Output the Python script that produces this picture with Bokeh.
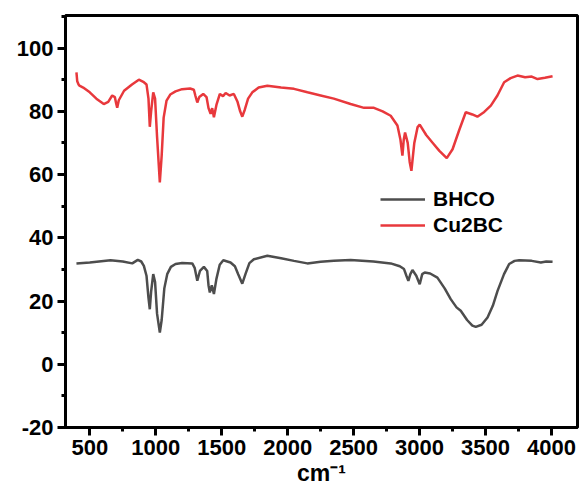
from bokeh.plotting import figure
from bokeh.models import Range1d, SingleIntervalTicker, Legend, LegendItem
from bokeh.embed import file_html
from bokeh.resources import INLINE

# Cu2BC (red)
cu_wn = [399, 405, 415, 422, 450, 500, 550, 606, 640, 670, 690, 700, 708, 720, 760, 820, 872, 910, 930, 945,
         955, 965, 981, 995, 1010, 1031, 1045, 1060, 1082, 1110, 1150, 1200, 1260, 1289, 1300, 1315, 1330, 1360,
         1385, 1400, 1416, 1428, 1441, 1460, 1486, 1510, 1530, 1560, 1592, 1620, 1640, 1656, 1675, 1700, 1732,
         1780, 1846, 1950, 2048, 2150, 2250, 2350, 2477, 2579, 2654, 2720, 2781, 2832, 2855, 2870, 2880, 2890,
         2910, 2925, 2938, 2960, 2985, 3001, 3050, 3100, 3150, 3206, 3250, 3300, 3350, 3400, 3438, 3490, 3540,
         3590, 3641, 3690, 3742, 3800, 3850, 3894, 3950, 4008]
cu_val = [92.3, 89.5, 88.5, 88.1, 87.5, 86, 84, 82.3, 83, 85, 84.5, 82.5, 81.1, 83.5, 86.5, 88.5, 90, 89.2, 88.5, 84,
          75.1, 80, 86, 84, 72, 57.5, 66, 78, 83.4, 85.3, 86.3, 87, 87.2, 86.8, 85, 82.8, 84.5, 85.5,
          84.5, 81, 79.2, 81, 78.1, 82, 85.5, 84.8, 85.8, 85, 85.5, 83, 80, 78.3, 80.5, 84, 86,
          87.5, 88.1, 87.5, 87.1, 86, 85, 84, 82.3, 81.1, 81.1, 80, 78.6, 75.5, 71, 66, 71, 73.3,
          70, 64, 61.2, 70, 75, 75.8, 72.5, 70, 67.5, 65.2, 68, 74, 79.7, 79, 78.3, 79.8, 81.8,
          85, 89.2, 90.5, 91.3, 90.8, 91, 90.2, 90.6, 91.1]

# BHCO (gray)
bh_wn = [399, 500, 657, 750, 822, 864, 890, 910, 930, 945, 955, 965, 981, 995, 1010, 1031, 1045, 1065, 1087, 1115,
         1150, 1200, 1277, 1295, 1315, 1335, 1365, 1390, 1400, 1410, 1425, 1441, 1460, 1485, 1512, 1567, 1600,
         1625, 1656, 1680, 1710, 1744, 1846, 1950, 2048, 2149, 2250, 2350, 2477, 2650, 2781, 2850, 2882, 2900,
         2915, 2930, 2946, 2975, 3001, 3020, 3039, 3080, 3135, 3190, 3236, 3280, 3312, 3360, 3400, 3426, 3470,
         3515, 3555, 3591, 3640, 3679, 3720, 3755, 3850, 3919, 3960, 4008]
bh_val = [31.9, 32.2, 32.9, 32.5, 31.9, 33.0, 32.5, 31.1, 28, 21, 17.4, 23, 28.5, 26, 16, 10.0, 14, 24, 28.5, 30.8,
          31.7, 32, 31.9, 30.5, 26.4, 29.5, 30.8, 29.5, 25, 22.7, 25, 22.2, 27, 31.5, 32.9, 32.2, 31,
          28.5, 25.5, 28.5, 32, 33.2, 34.3, 33.5, 32.7, 31.9, 32.4, 32.7, 33, 32.5, 31.9, 31, 30.1, 28,
          26.4, 28.5, 29.8, 28, 25.3, 28.5, 29.0, 28.7, 27.4, 24, 20.6, 18, 16.9, 14, 12.2, 11.8, 12.5,
          14.8, 18.5, 23.2, 28.5, 31.7, 32.7, 32.9, 32.7, 32.2, 32.5, 32.4]

series_names = ["BHCO", "Cu2BC"]
x_label = "cm\u207b\u00b9"
y_tick_override = {-20: "-20"}

FONT = "Liberation Sans"

p = figure(width=581, height=495, output_backend="svg", toolbar_location=None,
           x_range=Range1d(316, 4197), y_range=Range1d(-20, 110.3),
           min_border_left=65, min_border_right=4, min_border_top=15, min_border_bottom=68)
p.xgrid.visible = False
p.ygrid.visible = False
p.outline_line_color = "black"
p.outline_line_width = 3
p.outline_line_alpha = 1

r_bh = p.line(bh_wn, bh_val, line_color="#4d4d4d", line_width=2.5)
r_cu = p.line(cu_wn, cu_val, line_color="#e8383c", line_width=2.5)

p.xaxis.ticker = SingleIntervalTicker(interval=500, num_minor_ticks=2)
p.yaxis.ticker = SingleIntervalTicker(interval=20, num_minor_ticks=2)
p.yaxis.major_label_overrides = y_tick_override
for ax in (p.xaxis[0], p.yaxis[0]):
    ax.axis_line_width = 3
    ax.axis_line_color = "black"
    ax.major_tick_line_width = 3
    ax.minor_tick_line_width = 3
    ax.major_tick_line_color = "black"
    ax.minor_tick_line_color = "black"
    ax.major_tick_out = 8
    ax.major_tick_in = 0
    ax.minor_tick_out = 4
    ax.minor_tick_in = 0
    ax.major_label_text_font = FONT
    ax.major_label_text_font_style = "bold"
    ax.major_label_text_font_size = "22px"
    ax.major_label_text_color = "black"
    ax.major_label_standoff = 4

p.xaxis.axis_label = x_label
p.xaxis.axis_label_text_font = FONT
p.xaxis.axis_label_text_font_style = "bold"
p.xaxis.axis_label_text_font_size = "23px"
p.xaxis.axis_label_text_color = "black"
p.xaxis.axis_label_standoff = 2

legend = Legend(items=[LegendItem(label=series_names[0], renderers=[r_bh]),
                       LegendItem(label=series_names[1], renderers=[r_cu])],
                location=(315, 190))
legend.border_line_color = None
legend.background_fill_alpha = 0
legend.padding = 0
legend.margin = 0
legend.spacing = 2
legend.glyph_width = 45
legend.glyph_height = 20
legend.label_height = 20
legend.label_standoff = 8
legend.label_text_font = FONT
legend.label_text_font_style = "bold"
legend.label_text_font_size = "21px"
legend.label_text_color = "black"
p.add_layout(legend, "center")

open("out.html", "w").write(file_html(p, INLINE))
